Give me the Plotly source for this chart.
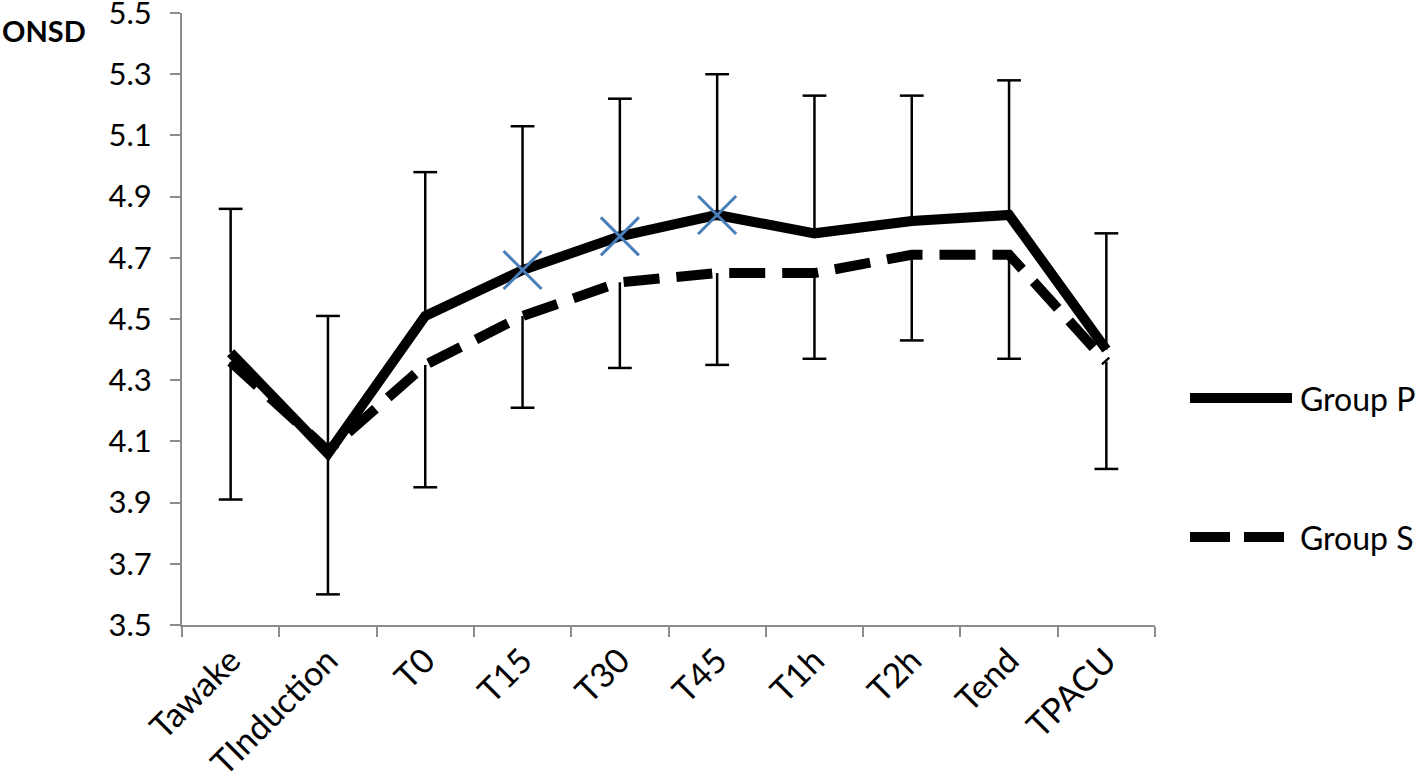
import plotly.graph_objects as go

# ---- data ----
categories = ["Tawake", "TInduction", "T0", "T15", "T30", "T45", "T1h", "T2h", "Tend", "TPACU"]
group_p = [4.39, 4.06, 4.51, 4.66, 4.77, 4.84, 4.78, 4.82, 4.84, 4.40]
group_s = [4.36, 4.07, 4.35, 4.51, 4.62, 4.65, 4.65, 4.71, 4.71, 4.36]
p_sd_upper = [0.47, 0.45, 0.47, 0.47, 0.45, 0.46, 0.45, 0.41, 0.44, 0.38]
s_sd_lower = [0.45, 0.47, 0.40, 0.30, 0.28, 0.30, 0.28, 0.28, 0.34, 0.35]
significant = ["T15", "T30", "T45"]
y_ticks = [3.5, 3.7, 3.9, 4.1, 4.3, 4.5, 4.7, 4.9, 5.1, 5.3, 5.5]

FONT = "Lato"
AXIS_COLOR = "#8c8c8c"
n = len(categories)

fig = go.Figure()

# error bar stems (no caps) - upper for Group P, lower for Group S
fig.add_trace(go.Scatter(
    x=categories, y=group_p, mode="lines", name="Group P",
    line=dict(color="black", width=10),
    error_y=dict(type="data", symmetric=False, array=p_sd_upper,
                 arrayminus=[0] * n, color="black", thickness=2.5, width=0),
    showlegend=False,
))
fig.add_trace(go.Scatter(
    x=categories, y=group_s, mode="lines", name="Group S",
    line=dict(color="black", width=10, dash="36px,17px"),
    error_y=dict(type="data", symmetric=False, array=[0] * n,
                 arrayminus=s_sd_lower, color="black", thickness=2.5, width=0),
    showlegend=False,
))
# error bar caps
p_top = [p + e for p, e in zip(group_p, p_sd_upper)]
s_bottom = [s - e for s, e in zip(group_s, s_sd_lower)]
fig.add_trace(go.Scatter(
    x=categories + categories, y=p_top + s_bottom, mode="markers", showlegend=False,
    marker=dict(symbol="line-ew", size=17, color="black",
                line=dict(color="black", width=2.5)),
))
# significance markers
sig_y = [group_p[categories.index(c)] for c in significant]
fig.add_trace(go.Scatter(
    x=significant, y=sig_y, mode="markers", showlegend=False,
    marker=dict(symbol="x-thin", size=38, color="#4a7ebb",
                line=dict(color="#4a7ebb", width=3)),
))

# ---- manual legend (line samples + labels) ----
x0, x1 = 182, 1155
y0, y1 = 625, 13
def px(v):
    return (v - x0) / (x1 - x0)
def py(v):
    return (y0 - v) / (y0 - y1)

fig.add_shape(type="line", xref="paper", yref="paper",
              x0=px(1190), x1=px(1292), y0=py(398), y1=py(398),
              line=dict(color="black", width=10))
fig.add_shape(type="line", xref="paper", yref="paper",
              x0=px(1190), x1=px(1284), y0=py(537), y1=py(537),
              line=dict(color="black", width=10, dash="40px,14px"))
fig.add_annotation(xref="paper", yref="paper", x=px(1298), y=py(398),
                   text="Group P", showarrow=False, xanchor="left", yanchor="middle",
                   font=dict(family=FONT, size=32, color="black"))
fig.add_annotation(xref="paper", yref="paper", x=px(1298), y=py(537),
                   text="Group S", showarrow=False, xanchor="left", yanchor="middle",
                   font=dict(family=FONT, size=32, color="black"))
fig.add_annotation(xref="paper", yref="paper", x=px(0), y=py(30),
                   text="<b>ONSD</b>", showarrow=False, xanchor="left", yanchor="middle",
                   font=dict(family=FONT, size=29, color="black"))

fig.update_layout(
    width=1418, height=782,
    margin=dict(l=182, r=263, t=13, b=157, autoexpand=False),
    paper_bgcolor="white", plot_bgcolor="white",
    font=dict(family=FONT, size=31, color="black"),
    showlegend=False,
)
fig.update_xaxes(
    type="category", tickson="boundaries", ticks="outside", ticklen=10,
    tickwidth=2, tickcolor=AXIS_COLOR, showline=True, linecolor=AXIS_COLOR,
    linewidth=2, showgrid=False, tickangle=-45, zeroline=False,
    tickfont=dict(family=FONT, size=34, color="black"),
    range=[-0.5, n - 0.5], ticklabeloverflow="allow",
)
fig.update_yaxes(
    range=[3.4999, 5.5001], tickvals=y_ticks, ticktext=[f"{v:.1f}" for v in y_ticks],
    ticks="outside", ticklen=10, tickwidth=2, tickcolor=AXIS_COLOR,
    showline=True, linecolor=AXIS_COLOR, linewidth=2, showgrid=False,
    zeroline=False, ticklabelstandoff=12, ticklabeloverflow="allow",
    tickfont=dict(family=FONT, size=31, color="black"),
)

fig.write_html("out.html", config={"displayModeBar": False},
               post_script="document.body.style.margin='0';")
